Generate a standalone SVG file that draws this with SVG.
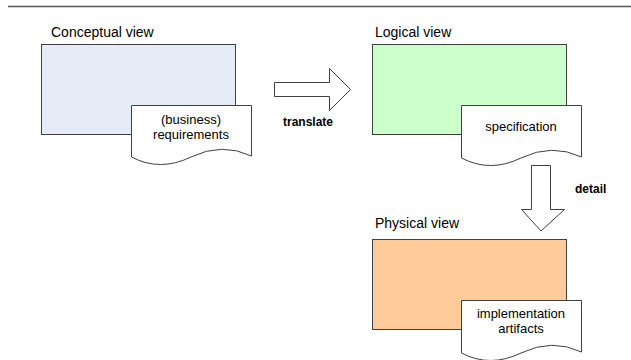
<svg xmlns="http://www.w3.org/2000/svg" width="631" height="360" viewBox="0 0 631 360">
<style>
  .lbl{font-family:"Liberation Sans",Arial,sans-serif;font-size:14px;fill:#000}
  .doc-t{font-family:"Liberation Sans",Arial,sans-serif;font-size:13px;fill:#000;text-anchor:middle}
  .bold{font-family:"Liberation Sans",Arial,sans-serif;font-size:12px;font-weight:bold;fill:#000}
  .box{stroke:#404040;stroke-width:1}
  .doc{fill:#fff;stroke:#404040;stroke-width:1}
  .arr{fill:#fff;stroke:#404040;stroke-width:1}
</style>
<rect width="631" height="360" fill="#fff"/>
<line x1="8" y1="6.5" x2="631" y2="6.5" stroke="#555" stroke-width="1.5"/>

<g id="conceptual">
  <text class="lbl" x="51" y="37">Conceptual view</text>
  <rect class="box" x="41.5" y="44.5" width="194" height="90" fill="#E6ECF7"/>
  <path class="doc" d="M131.5,105.5 L251.5,105.5 L251.5,156 Q222,142 191,157 T131.5,157 Z" transform=""/>
  <text class="doc-t" x="191" y="124">(business)</text>
  <text class="doc-t" x="191" y="139">requirements</text>
</g>

<g id="logical">
  <text class="lbl" x="375" y="37">Logical view</text>
  <rect class="box" x="372.5" y="44.5" width="194" height="90" fill="#CCFFCC"/>
  <path class="doc" d="M461.5,105.5 L581.5,105.5 L581.5,157 Q552,143 521,158 T461.5,158 Z"/>
  <text class="doc-t" x="521" y="131">specification</text>
</g>

<g id="physical">
  <text class="lbl" x="375" y="228">Physical view</text>
  <rect class="box" x="372.5" y="239.5" width="194" height="90" fill="#FFCC99"/>
  <path class="doc" d="M461.5,300.5 L581.5,300.5 L581.5,352 Q552,338 521,353 T461.5,353 Z"/>
  <text class="doc-t" x="521" y="318">implementation</text>
  <text class="doc-t" x="521" y="333">artifacts</text>
</g>

<g id="connectors">
  <path class="arr" d="M274.5,82.5 L329.5,82.5 L329.5,68.5 L350.5,89.5 L329.5,110.5 L329.5,96.5 L274.5,96.5 Z"/>
  <text class="bold" x="308" y="126" text-anchor="middle">translate</text>
  <path class="arr" d="M531.5,165.5 L550.5,165.5 L550.5,209.5 L564.5,209.5 L541,231 L521.5,209.5 L531.5,209.5 Z"/>
  <text class="bold" x="575" y="193">detail</text>
</g>
</svg>
